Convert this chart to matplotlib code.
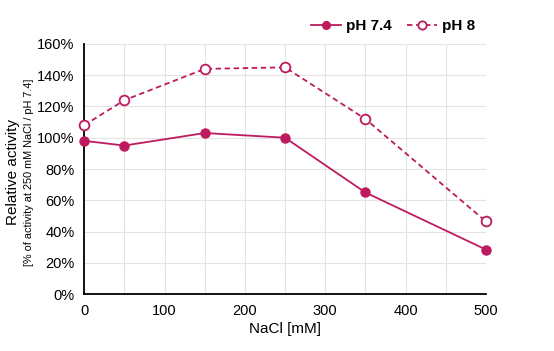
import matplotlib
matplotlib.use("Agg")
import matplotlib.pyplot as plt
from matplotlib.ticker import FuncFormatter, MultipleLocator

nacl = [0, 50, 150, 250, 350, 500]
ph74 = [98, 95, 103, 100, 65, 28.5]
ph8 = [108, 124, 144, 145, 112, 46.5]

color = "#BE1A5E"
plt.rcParams['font.family'] = ['Liberation Sans', 'DejaVu Sans']

fig = plt.figure(figsize=(5.54, 3.51), dpi=100)
ax = fig.add_axes([0.152, 0.162, 0.725, 0.713])

ax.plot(nacl, ph74, color=color, lw=1.3, marker='o', ms=6.5, mfc=color, mec=color, label='pH 7.4', zorder=3)
ax.plot(nacl, ph8, color=color, lw=1.3, ls=(0, (3, 2)), marker='o', ms=7, mfc='white', mec=color, mew=1.3, label='pH 8', zorder=3)

ax.set_xlim(0, 500)
ax.set_ylim(0, 160)
ax.xaxis.set_major_locator(MultipleLocator(100))
ax.xaxis.set_minor_locator(MultipleLocator(50))
ax.yaxis.set_major_locator(MultipleLocator(20))
ax.yaxis.set_major_formatter(FuncFormatter(lambda v, p: f"{int(v)}%"))
ax.grid(True, which='both', color='#E3E3E3', lw=0.8, zorder=0)
ax.set_axisbelow(True)
for s in ['top', 'right']:
    ax.spines[s].set_visible(False)
for s in ['left', 'bottom']:
    ax.spines[s].set_linewidth(1.3)
    ax.spines[s].set_color('black')
ax.tick_params(which='both', length=0, labelsize=10.5, pad=7)
for l in ax.lines:
    l.set_clip_on(False)

ax.set_xlabel("NaCl [mM]", fontsize=11, labelpad=3)
fig.text(0.024, 0.51, "Relative activity", rotation=90, fontsize=11, ha='center', va='center')
fig.text(0.053, 0.51, "[% of activity at 250 mM NaCl / pH 7.4]", rotation=90, fontsize=7.8, ha='center', va='center')

leg = ax.legend(loc='lower right', bbox_to_anchor=(1.0, 1.0), ncol=2, frameon=False,
                prop={'weight': 'bold', 'size': 11}, handlelength=2.0, columnspacing=1.0,
                handletextpad=0.3, borderaxespad=0.3, markerscale=0.85)

fig.savefig("out.png", dpi=100)
